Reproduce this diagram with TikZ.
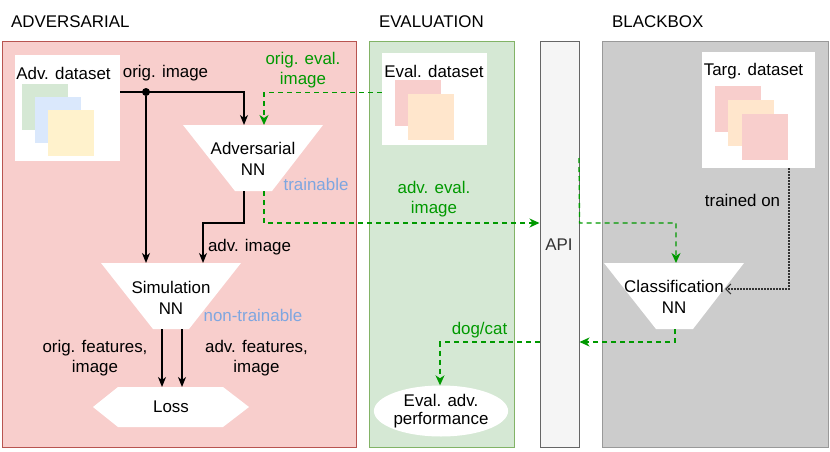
\documentclass[tikz,border=0pt]{standalone}
\usepackage{fontspec}
\setmainfont{Liberation Sans}
\usetikzlibrary{arrows.meta,shapes.geometric}
\definecolor{redfill}{HTML}{F8CECC}
\definecolor{redline}{HTML}{B85450}
\definecolor{greenfill}{HTML}{D5E8D4}
\definecolor{greenline}{HTML}{82B366}
\definecolor{apifill}{HTML}{F5F5F5}
\definecolor{apiline}{HTML}{666666}
\definecolor{grayfill}{HTML}{CCCCCC}
\definecolor{grayline}{HTML}{999999}
\definecolor{bluefill}{HTML}{DAE8FC}
\definecolor{yellowfill}{HTML}{FFF2CC}
\definecolor{orangefill}{HTML}{FFE6CC}
\definecolor{flowgreen}{HTML}{009900}
\definecolor{softblue}{HTML}{7EA6E0}
\definecolor{dotgray}{HTML}{333333}
\begin{document}
\begin{tikzpicture}[x=1pt,y=-1pt,
  font=\fontsize{16.9}{21}\selectfont,
  panel/.style={line width=1pt},
  txt/.style={inner sep=0pt, align=center},
  dsbox/.style={fill=white, inner sep=0pt},
  sq/.style={inner sep=0pt, minimum width=46pt, minimum height=46pt},
  nnshape/.style={fill=white},
  flow/.style={line width=1.3pt, -{Stealth[length=10pt,width=8pt,inset=3pt]}},
  evaldash/.style={line width=1.3pt, flowgreen, dash pattern=on 5pt off 4pt},
  evalflow/.style={evaldash, -{Stealth[length=10pt,width=9pt,inset=3pt]}},
  trainflow/.style={line width=1.3pt, dotgray, dash pattern=on 1.4pt off 1.6pt,
    -{Straight Barb[length=5pt,width=10pt,line width=1.2pt]}},
  twoline/.style={font=\fontsize{16.9}{20}\selectfont}
]
\useasboundingbox (0,0) rectangle (830,452);

% titles
\node[txt, anchor=west] (tadv) at (11,21.5) {ADVERSARIAL};
\node[txt, anchor=west] (teval) at (379,21.5) {EVALUATION};
\node[txt, anchor=west] (tbb) at (612,21.5) {BLACKBOX};

% panels
\node[panel, draw=redline, fill=redfill, minimum width=354pt, minimum height=405pt] (padv) at (179,244.5) {};
\node[panel, draw=greenline, fill=greenfill, minimum width=145pt, minimum height=405pt] (peval) at (441.5,244.5) {};
\node[panel, draw=apiline, fill=apifill, minimum width=39pt, minimum height=405pt] (api) at (559.5,244.5) {};
\node[panel, draw=grayline, fill=grayfill, minimum width=225.5pt, minimum height=405pt] (pbb) at (715.25,244.5) {};
\node[txt, text=black!80] (apil) at (559,245) {API};

% datasets
\node[dsbox, minimum width=105pt, minimum height=106pt] (advds) at (67.5,108) {};
\node[sq, fill=greenfill] (advsq1) at (45,107) {};
\node[sq, fill=bluefill] (advsq2) at (58,120) {};
\node[sq, fill=yellowfill] (advsq3) at (71,133) {};
\node[txt] (advdsl) at (63.5,73.5) {Adv. dataset};

\node[dsbox, minimum width=105pt, minimum height=92pt] (evalds) at (434.5,99) {};
\node[sq, fill=redfill] (evsq1) at (418,103) {};
\node[sq, fill=orangefill] (evsq2) at (431,117) {};
\node[txt] (evaldsl) at (434,71.5) {Eval. dataset};

\node[dsbox, minimum width=113pt, minimum height=116pt] (targds) at (758.5,110) {};
\node[sq, fill=redfill] (tgsq1) at (738,109) {};
\node[sq, fill=orangefill] (tgsq2) at (751,123) {};
\node[sq, fill=redfill] (tgsq3) at (765,137) {};
\node[txt] (targdsl) at (753.5,71.5) {Targ. dataset};

% NN shapes
\fill[nnshape] (183,125) -- (323,125) -- (272,191) -- (235,191) -- cycle;
\node[txt] (advnn) at (253,158.5) {Adversarial\\NN};
\fill[nnshape] (101,263) -- (241,263) -- (189,329) -- (153,329) -- cycle;
\node[txt] (simnn) at (171,297.5) {Simulation\\NN};
\fill[nnshape] (604,263) -- (744,263) -- (693,329) -- (656,329) -- cycle;
\node[txt] (clsnn) at (674,296.5) {Classification\\NN};
\fill[nnshape] (93,407) -- (118,387) -- (223,387) -- (249,407) -- (223,427) -- (118,427) -- cycle;
\node[txt] (loss) at (171,407) {Loss};
\node[ellipse, fill=white, minimum width=129pt, minimum height=51pt, inner sep=0pt,
  align=center, font=\fontsize{16.9}{18.5}\selectfont] (perf) at (441,411) {Eval. adv.\\performance};

% connection points
\coordinate (advin) at (244,125);
\coordinate (advin2) at (264,125);
\coordinate (advout) at (244,191);
\coordinate (advout2) at (264,191);
\coordinate (simin1) at (146,263);
\coordinate (simin2) at (203,263);
\coordinate (simout1) at (162,329);
\coordinate (simout2) at (182,329);
\coordinate (lossin1) at (162,387);
\coordinate (lossin2) at (182,387);
\coordinate (clsin) at (676,263);
\coordinate (clsout) at (675,329);
\coordinate (clsright) at (725,289);
\coordinate (lane) at (0,223);
\coordinate (lane2) at (0,342);
\coordinate (apitop) at (579,158);
\node[circle, fill=black, inner sep=0pt, minimum size=8pt] (dot) at (146,92) {};

% black flows
\draw[flow] (advds.east |- dot) -| (advin);
\draw[flow] (dot) -- (simin1);
\draw[flow] (advout) -- (advout |- lane) -| (simin2);
\draw[flow] (simout1) -- (lossin1);
\draw[flow] (simout2) -- (lossin2);

% green flows
\draw[evalflow] (evalds.west |- 0,92.7) -| (advin2);
\draw[evalflow] (advout2) |- (api.west |- lane);
\draw[evalflow] (apitop) -- (api.east |- lane) -| (clsin);
\draw[evalflow] (clsout) |- (api.east |- lane2);
\draw[evalflow] (api.west |- lane2) -| (perf.north -| 440,0);

% dotted
\draw[trainflow] (targds.south -| 789,0) |- (clsright);

% labels
\node[txt] (lorig) at (165.5,73.5) {orig. image};
\node[txt, text=flowgreen, twoline] (lorigeval) at (303,70.5) {orig. eval.\\image};
\node[txt, text=softblue] (ltrain) at (316,184.5) {trainable};
\node[txt] (ladvimg) at (249.5,247.5) {adv. image};
\node[txt, text=softblue] (lnontrain) at (253,315.5) {non-trainable};
\node[txt, twoline] (lof) at (95,358.5) {orig. features,\\image};
\node[txt, twoline] (laf) at (256.5,358.5) {adv. features,\\image};
\node[txt, text=flowgreen, twoline] (lae) at (434,199.5) {adv. eval.\\image};
\node[txt, text=flowgreen] (ldog) at (479.5,330.5) {dog/cat};
\node[txt] (ltrained) at (742.5,200.5) {trained on};
\end{tikzpicture}
\end{document}
